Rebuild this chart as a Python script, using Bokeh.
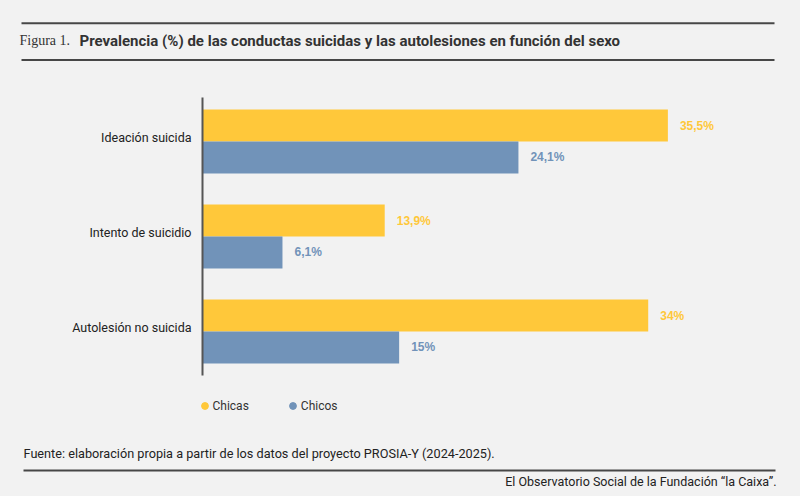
from bokeh.plotting import figure
from bokeh.models import (ColumnDataSource, Range1d, Legend, LegendItem, Label,
                          LinearAxis, FixedTicker)
from bokeh.transform import dodge
from bokeh.layouts import column
from bokeh.embed import file_html
from bokeh.resources import INLINE
from bokeh.core.properties import value

# ---- data ----
categories = ["Ideación suicida", "Intento de suicidio", "Autolesión no suicida"]
series = ["Chicas", "Chicos"]
chicas = [35.5, 13.9, 34.0]
chicos = [24.1, 6.1, 15.0]
chicas_labels = ["35,5%", "13,9%", "34%"]
chicos_labels = ["24,1%", "6,1%", "15%"]

title_prefix = "Figura 1."
title_text = "Prevalencia (%) de las conductas suicidas y las autolesiones en función del sexo"
source_text = "Fuente: elaboración propia a partir de los datos del proyecto PROSIA-Y (2024-2025)."
credit_text = "El Observatorio Social de la Fundación \u201cla Caixa\u201d."

# ---- styles ----
BG = "#f2f2f2"
YELLOW = "#ffc83a"
BLUE = "#7193b9"
RULE = "#474747"
TXT = "#222222"
W = 800
NAN = float("nan")


def base_fig(h):
    f = figure(width=W, height=h, x_range=Range1d(0, W), y_range=Range1d(h, 0),
               output_backend="svg", toolbar_location=None, min_border=0,
               x_axis_location=None, y_axis_location=None)
    f.frame_align = False
    f.grid.visible = False
    f.background_fill_color = BG
    f.border_fill_color = BG
    f.outline_line_color = None
    return f

# ---- header ----
hdr = base_fig(78)
hdr.segment(x0=[21, 21], y0=[22.7, 59.5], x1=[774, 774], y1=[22.7, 59.5],
            line_color=RULE, line_width=2)
hdr.add_layout(Label(x=19, y=40, text=title_prefix, text_font="Liberation Serif",
                     text_font_size="14px", text_baseline="middle", text_color="#333333"))
hdr.add_layout(Label(x=79, y=40, text=title_text, text_font="Roboto",
                     text_font_style="bold", text_font_size="15px",
                     text_baseline="middle", text_color="#333333"))

# ---- chart ----
n = len(categories)
ypos = [n - 1 - i for i in range(n)]  # first category on top
src = ColumnDataSource(dict(cat=categories, y=ypos, chicas=chicas, chicos=chicos,
                            chicas_lbl=chicas_labels, chicos_lbl=chicos_labels))
pad = 0.037
p = figure(width=W, height=302, y_range=Range1d(-0.5 + pad, n - 0.5 - pad),
           x_range=Range1d(0, 43.48),
           output_backend="svg", toolbar_location=None, x_axis_location=None,
           y_axis_location=None,
           min_border_left=202, min_border_right=28, min_border_top=19, min_border_bottom=5)
p.frame_align = False
p.background_fill_color = BG
p.border_fill_color = BG
p.outline_line_color = None
p.grid.visible = False

off = 0.168
p.hbar(y=dodge("y", off), right="chicas", left=0, height=0.337,
       color=YELLOW, line_color=None, source=src)
p.hbar(y=dodge("y", -off), right="chicos", left=0, height=0.337,
       color=BLUE, line_color=None, source=src)
p.text(x="chicas", y=dodge("y", off), text="chicas_lbl", source=src,
       x_offset=12, text_baseline="middle", text_font=value("Liberation Sans"),
       text_font_style="bold", text_font_size=value("12px"), text_color=YELLOW)
p.text(x="chicos", y=dodge("y", -off), text="chicos_lbl", source=src,
       x_offset=12, text_baseline="middle", text_font=value("Liberation Sans"),
       text_font_style="bold", text_font_size=value("12px"), text_color=BLUE)

# category axis: same scale, labels sit slightly above the group centres
lift = 0.047
p.extra_y_ranges = {"lab": Range1d(-0.5 + pad - lift, n - 0.5 - pad - lift)}
overrides = {}
for yy, c in zip(ypos, categories):
    overrides[yy] = c
    overrides[str(yy)] = c
ax = LinearAxis(y_range_name="lab", ticker=FixedTicker(ticks=ypos),
                major_label_overrides=overrides)
ax.axis_line_color = "#555555"
ax.axis_line_width = 2
ax.major_tick_line_color = None
ax.minor_tick_line_color = None
ax.major_label_standoff = 5
ax.major_label_text_font = "Roboto"
ax.major_label_text_font_size = "12.5px"
ax.major_label_text_color = TXT
p.add_layout(ax, "left")

# ---- footer ----
FH = 116
ftr = base_fig(FH)
r1 = ftr.scatter(x=[NAN], y=[NAN], size=7, color=YELLOW)
r2 = ftr.scatter(x=[NAN], y=[NAN], size=7, color=BLUE)
legend = Legend(items=[LegendItem(label=series[0], renderers=[r1]),
                       LegendItem(label=series[1], renderers=[r2])],
                location=(195.5, FH - 17.2 - 17), orientation="horizontal",
                glyph_width=17, glyph_height=17, label_height=17, label_standoff=0,
                spacing=35, padding=0, margin=0, border_line_color=None,
                background_fill_alpha=0, label_text_font="Roboto",
                label_text_font_size="12px", label_text_color="#333333")
ftr.add_layout(legend)
ftr.segment(x0=[23], y0=[90], x1=[775], y1=[90], line_color=RULE, line_width=2)
ftr.add_layout(Label(x=23, y=72.7, text=source_text, text_font="Roboto",
                     text_font_size="12.7px", text_baseline="middle", text_color=TXT))
ftr.add_layout(Label(x=776, y=100.5, text=credit_text, text_font="Roboto",
                     text_font_size="12.5px", text_baseline="middle", text_align="right",
                     text_color=TXT))

layout = column(hdr, p, ftr, spacing=0)
html = file_html(layout, INLINE)
html = html.replace("</head>", "<style>html,body{background:#f2f2f2;margin:0;padding:0;}</style></head>", 1)
open("out.html", "w").write(html)
